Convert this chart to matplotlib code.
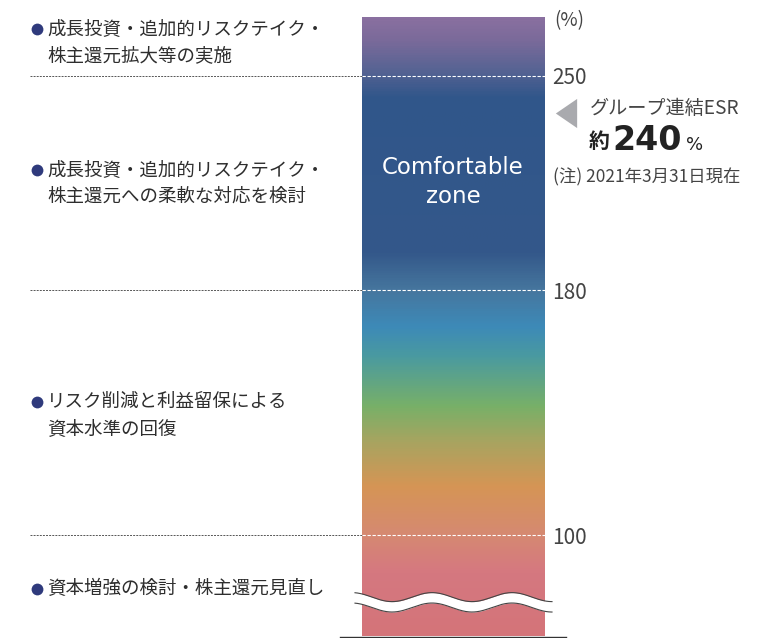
import matplotlib
matplotlib.use("Agg")
import matplotlib.pyplot as plt
import numpy as np
from matplotlib.colors import LinearSegmentedColormap

plt.rcParams['font.family'] = ['Noto Sans CJK JP', 'DejaVu Sans']

# ESR thresholds (%)
levels = [250, 180, 100]
level_labels = ["250", "180", "100"]
bar_top = 269
bar_bottom = 67
break_at = 78          # where the axis break (wave) sits
esr_value = 238

# actions for each zone, (y value, lines)
zone_texts = [
    (261.8, ["成長投資・追加的リスクテイク・", "株主還元拡大等の実施"]),
    (215.7, ["成長投資・追加的リスクテイク・", "株主還元への柔軟な対応を検討"]),
    (139.9, ["リスク削減と利益留保による", "資本水準の回復"]),
    (83.3, ["資本増強の検討・株主還元見直し"]),
]

# gradient stops along the bar (value, colour)
grad_vals = [67, 87.6, 100.7, 115.7, 130.1, 141.8, 158.2, 168, 180, 192.2, 243.1, 252.9, 261.8, 269.3]
grad_cols = ["#d47479", "#d57880", "#d68a70", "#d59555", "#a8a460", "#78b068",
             "#4a9aa0", "#3d8ab8", "#46769e", "#34588a", "#30568a", "#5a6494",
             "#7a6a9a", "#8a70a0"]

px_per_unit = 3.06
y_top = 250 + 76 / px_per_unit
y_bot = 250 - (638 - 76) / px_per_unit
cjk_shift = 2.5 / px_per_unit   # CJK glyphs sit a little high with va="center"


def py(p):
    # pixel row -> value
    return 250 + (76 - p) / px_per_unit


fig = plt.figure(figsize=(7.76, 6.38), dpi=100)
ax = fig.add_axes([0, 0, 1, 1])
ax.set_xlim(0, 776)
ax.set_ylim(y_bot, y_top)
ax.axis("off")

bar_x0, bar_x1 = 362, 545

# gradient bar
vmin, vmax = grad_vals[0], grad_vals[-1]
cmap = LinearSegmentedColormap.from_list(
    "esr", [((v - vmin) / (vmax - vmin), c) for v, c in zip(grad_vals, grad_cols)])
vals = np.linspace(bar_bottom, bar_top, 600).reshape(-1, 1)
ax.imshow(vals, cmap=cmap, vmin=vmin, vmax=vmax, origin="lower", aspect="auto",
          extent=[bar_x0, bar_x1, bar_bottom, bar_top], interpolation="bilinear", zorder=1)

# threshold lines
for lv, lab in zip(levels, level_labels):
    ax.plot([30, bar_x0], [lv, lv], color="#555555", lw=0.7, ls=(0, (2, 1.2)), zorder=2)
    ax.plot([bar_x0, bar_x1 + 3], [lv, lv], color="white", lw=0.8, ls=(0, (3, 1.5)), zorder=3)
    ax.text(552, lv - cjk_shift, lab, fontsize=15, color="#444444", va="center", ha="left")
ax.text(554, py(18) - cjk_shift, "(%)", fontsize=13.5, color="#444444", va="center", ha="left")

# baseline
ax.plot([340, 566], [bar_bottom - 0.2, bar_bottom - 0.2], color="#333333", lw=1.0, zorder=4)

# axis break wave
xw = np.linspace(355, 552, 300)
amp = 4.5 / px_per_unit
half = 5.2 / px_per_unit
yc = break_at + amp * np.cos(2 * np.pi * (xw - 352) / 80)
ax.fill_between(xw, yc - half, yc + half, color="white", lw=0, zorder=5)
ax.plot(xw, yc + half, color="#444444", lw=0.8, zorder=6)
ax.plot(xw, yc - half, color="#444444", lw=0.8, zorder=6)

# label inside bar
ax.text(453, py(168), "Comfortable", fontsize=16.5, color="white", ha="center", va="center",
        family=["DejaVu Sans"], zorder=4)
ax.text(453, py(197), "zone", fontsize=16.5, color="white", ha="center", va="center",
        family=["DejaVu Sans"], zorder=4)

# zone descriptions
line_gap = 27 / px_per_unit
for yv, lines in zone_texts:
    n = len(lines)
    first = yv + (n - 1) * line_gap / 2
    ax.plot(37, first - cjk_shift, marker="o", ms=8.5, color="#2f3a7c", mec="none")
    for i, ln in enumerate(lines):
        ax.text(47, first - i * line_gap - cjk_shift, ln, fontsize=13.3, color="#2e2e2e",
                va="center", ha="left")

# current ESR marker
tri = [(-0.73, 0), (0.73, 1), (0.73, -1)]
ax.plot(566, esr_value, marker=tri, ms=21, color="#a9aaae", mec="none")
ax.text(590, py(108), "グループ連結ESR", fontsize=13.8, color="#444444",
        va="center", ha="left")
ax.text(589, py(142), "約", fontsize=15, color="#222222", va="center", ha="left", fontweight="bold")
ax.text(612, py(141), "240", fontsize=24, color="#222222", va="center", ha="left",
        fontweight="bold", family=["DejaVu Sans"])
ax.text(686, py(145), "%", fontsize=13, color="#222222", va="center", ha="left",
        family=["DejaVu Sans"])
ax.text(553, py(177), "(注) 2021年3月31日現在", fontsize=12.5, color="#444444",
        va="center", ha="left")

fig.savefig("out.png", dpi=100)
